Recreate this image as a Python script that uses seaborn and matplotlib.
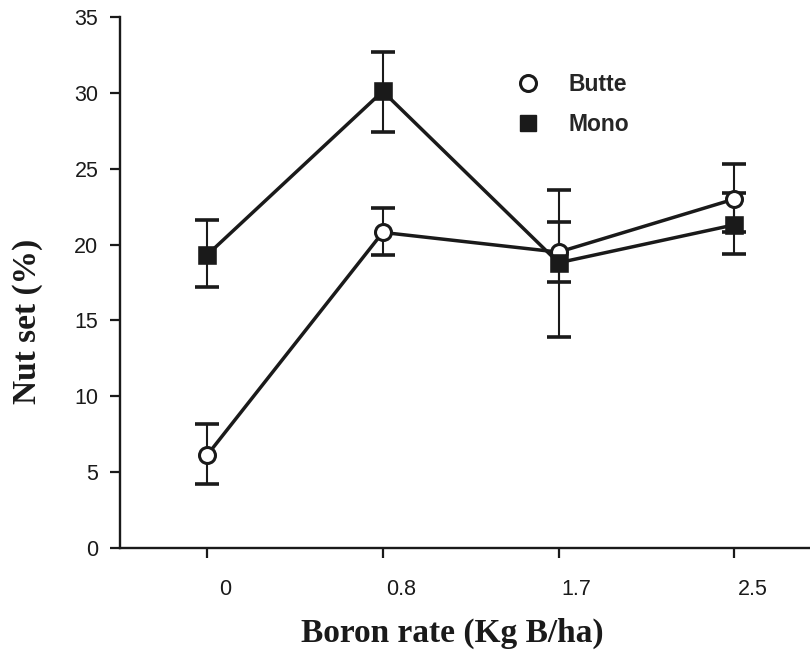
"""
Nut set vs boron rate – Butte and Mono
"""

import matplotlib
matplotlib.use("Agg")
import matplotlib.pyplot as plt
import matplotlib.transforms as mtransforms
from matplotlib.lines import Line2D
import pandas as pd
import seaborn as sns

sns.set_style("ticks")
plt.rcParams["font.family"] = ["Liberation Sans", "DejaVu Sans"]

# ── data ────────────────────────────────────────────────────────────────────
RATES = ["0", "0.8", "1.7", "2.5"]

butte_mean  = [6.1, 20.8, 19.5, 23.0]
butte_lower = [4.2, 19.3, 17.5, 20.85]
butte_upper = [8.2, 22.4, 21.5, 25.3]

mono_mean  = [19.3, 30.1, 18.8, 21.3]
mono_lower = [17.2, 27.45, 13.9, 19.4]
mono_upper = [21.6, 32.7, 23.6, 23.4]

Y_TICKS = [0, 5, 10, 15, 20, 25, 30, 35]

df = pd.DataFrame({
    "rate": RATES * 2,
    "nut_set": butte_mean + mono_mean,
    "cultivar": ["Butte"] * 4 + ["Mono"] * 4,
})

INK = "#1a1a1a"

# ── figure ──────────────────────────────────────────────────────────────────
fig = plt.figure(figsize=(8.1, 6.52), dpi=100)
ax = fig.add_axes([0.148, 0.1595, 0.852, 0.8145])

x = range(len(RATES))
for mean, lo, hi in [(butte_mean, butte_lower, butte_upper),
                     (mono_mean, mono_lower, mono_upper)]:
    ax.errorbar(x, mean,
                yerr=[[m - l for m, l in zip(mean, lo)],
                      [h - m for m, h in zip(mean, hi)]],
                fmt="none", ecolor=INK, elinewidth=1.5,
                capsize=8.6, capthick=2.6, zorder=2)

sns.pointplot(data=df[df["cultivar"] == "Butte"], x="rate", y="nut_set",
              order=RATES, color=INK, markers="o", errorbar=None,
              linewidth=2.5, markersize=11.5, ax=ax)
sns.pointplot(data=df[df["cultivar"] == "Mono"], x="rate", y="nut_set",
              order=RATES, color=INK, markers="s", errorbar=None,
              linewidth=2.5, markersize=12, ax=ax)

for ln in ax.lines:
    if ln.get_marker() == "o":
        ln.set_markerfacecolor("white")
        ln.set_markeredgewidth(2.2)
    ln.set_zorder(3)

ax.set_xlim(-0.495, 3.43)
ax.set_ylim(0, 35)
ax.set_yticks(Y_TICKS)
ax.set_yticklabels([str(v) for v in Y_TICKS])

sns.despine(ax=ax)
for s in ["left", "bottom"]:
    ax.spines[s].set_linewidth(1.7)
    ax.spines[s].set_color(INK)

ax.tick_params(axis="y", length=7.5, width=1.6, pad=8, labelsize=15.5, colors=INK)
ax.tick_params(axis="x", length=7.5, width=1.6, pad=15, labelsize=15.5, colors=INK)

# x tick labels sit a bit to the right of the ticks in the original
shift = mtransforms.ScaledTranslation(18 / 100, 0, fig.dpi_scale_trans)
for lab in ax.get_xticklabels():
    lab.set_transform(lab.get_transform() + shift)

serif = ["Liberation Serif", "DejaVu Serif"]
ax.set_xlabel("Boron rate (Kg B/ha)", family=serif, fontweight="bold",
              fontsize=24, color=INK, va="baseline")
ax.set_ylabel("Nut set (%)", family=serif, fontweight="bold",
              fontsize=24, color=INK)
ax.xaxis.set_label_coords(0.481, -0.177)
ax.yaxis.set_label_coords(-0.112, 0.427)

handles = [
    Line2D([], [], linestyle="none", marker="o", markersize=11.5,
           markerfacecolor="white", markeredgecolor=INK, markeredgewidth=2.2),
    Line2D([], [], linestyle="none", marker="s", markersize=11,
           markerfacecolor=INK, markeredgecolor=INK),
]
ax.legend(handles, ["Butte", "Mono"], frameon=False,
          prop={"weight": "bold", "size": 16.5},
          loc="upper left", bbox_to_anchor=(0.541, 0.933),
          handletextpad=1.2, labelspacing=0.75, handlelength=1.2)

plt.savefig("out.png", dpi=100)
plt.close()
